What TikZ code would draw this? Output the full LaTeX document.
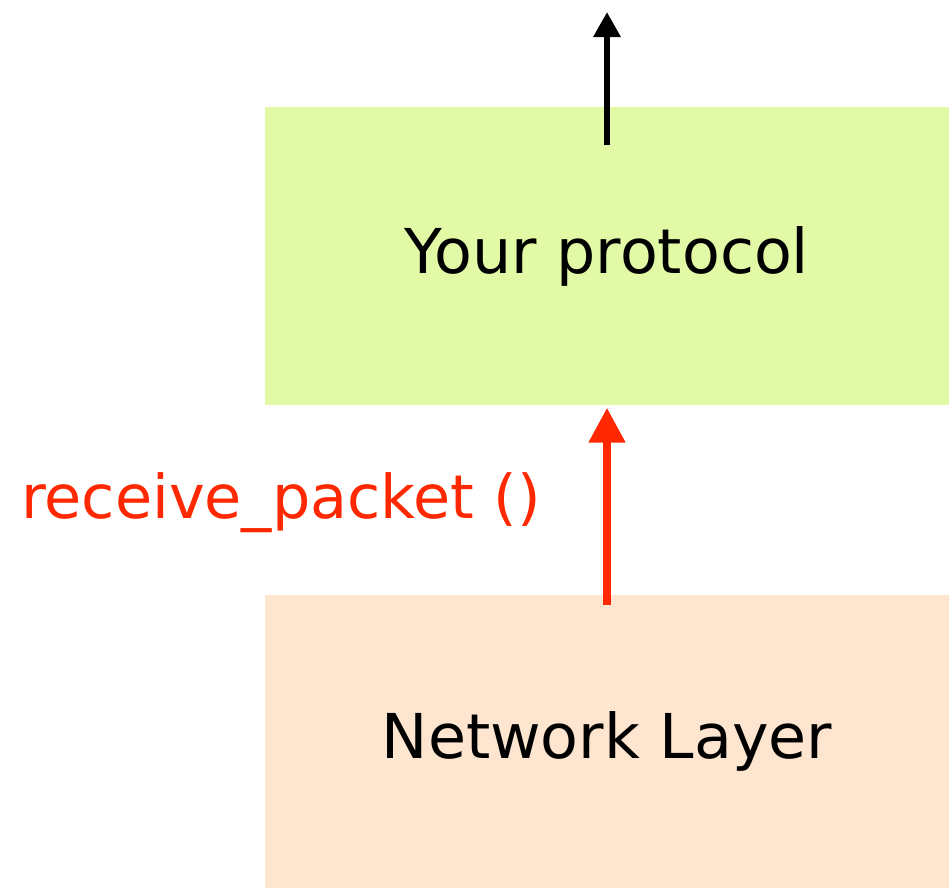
\documentclass[tikz,border=0pt]{standalone}
\usepackage{fontspec}
\setmainfont{DejaVu Sans}
\usepackage{tikz}
\usetikzlibrary{arrows.meta}

\definecolor{protogreen}{RGB}{226,250,166}
\definecolor{netpeach}{RGB}{253,229,208}
\definecolor{callred}{RGB}{255,40,0}

\begin{document}
\begin{tikzpicture}
	\useasboundingbox (0,0) rectangle (9.49,-8.88);

	\begin{scope}[every node/.style={rectangle,inner sep=0pt,minimum width=6.84cm,font=\fontsize{17.6}{20}\selectfont}]
	\node[fill=protogreen,minimum height=2.98cm] (proto) at (6.07,-2.56) {\raisebox{-0.06cm}{Your protocol}};
	\node[fill=netpeach,minimum height=2.93cm] (net) at (6.07,-7.415) {\raisebox{-0.02cm}{Network Layer}};
	\end{scope}

	\node[text=callred,font=\fontsize{17.2}{20}\selectfont,inner sep=0pt] (recv) at (2.81,-5.03) {receive\_packet ()};

	\coordinate (up) at (6.07,-0.12);
	\coordinate (protoin) at (6.07,-1.45);
	\coordinate (netout) at (6.07,-6.05);

	\path [-{Triangle[length=0.25cm,width=0.26cm]}, line width=0.06cm] (protoin) edge (up);
	\path [-{Triangle[length=0.35cm,width=0.35cm]}, line width=0.08cm, callred] (netout) edge ([yshift=-0.02cm]proto.south);
\end{tikzpicture}
\end{document}
